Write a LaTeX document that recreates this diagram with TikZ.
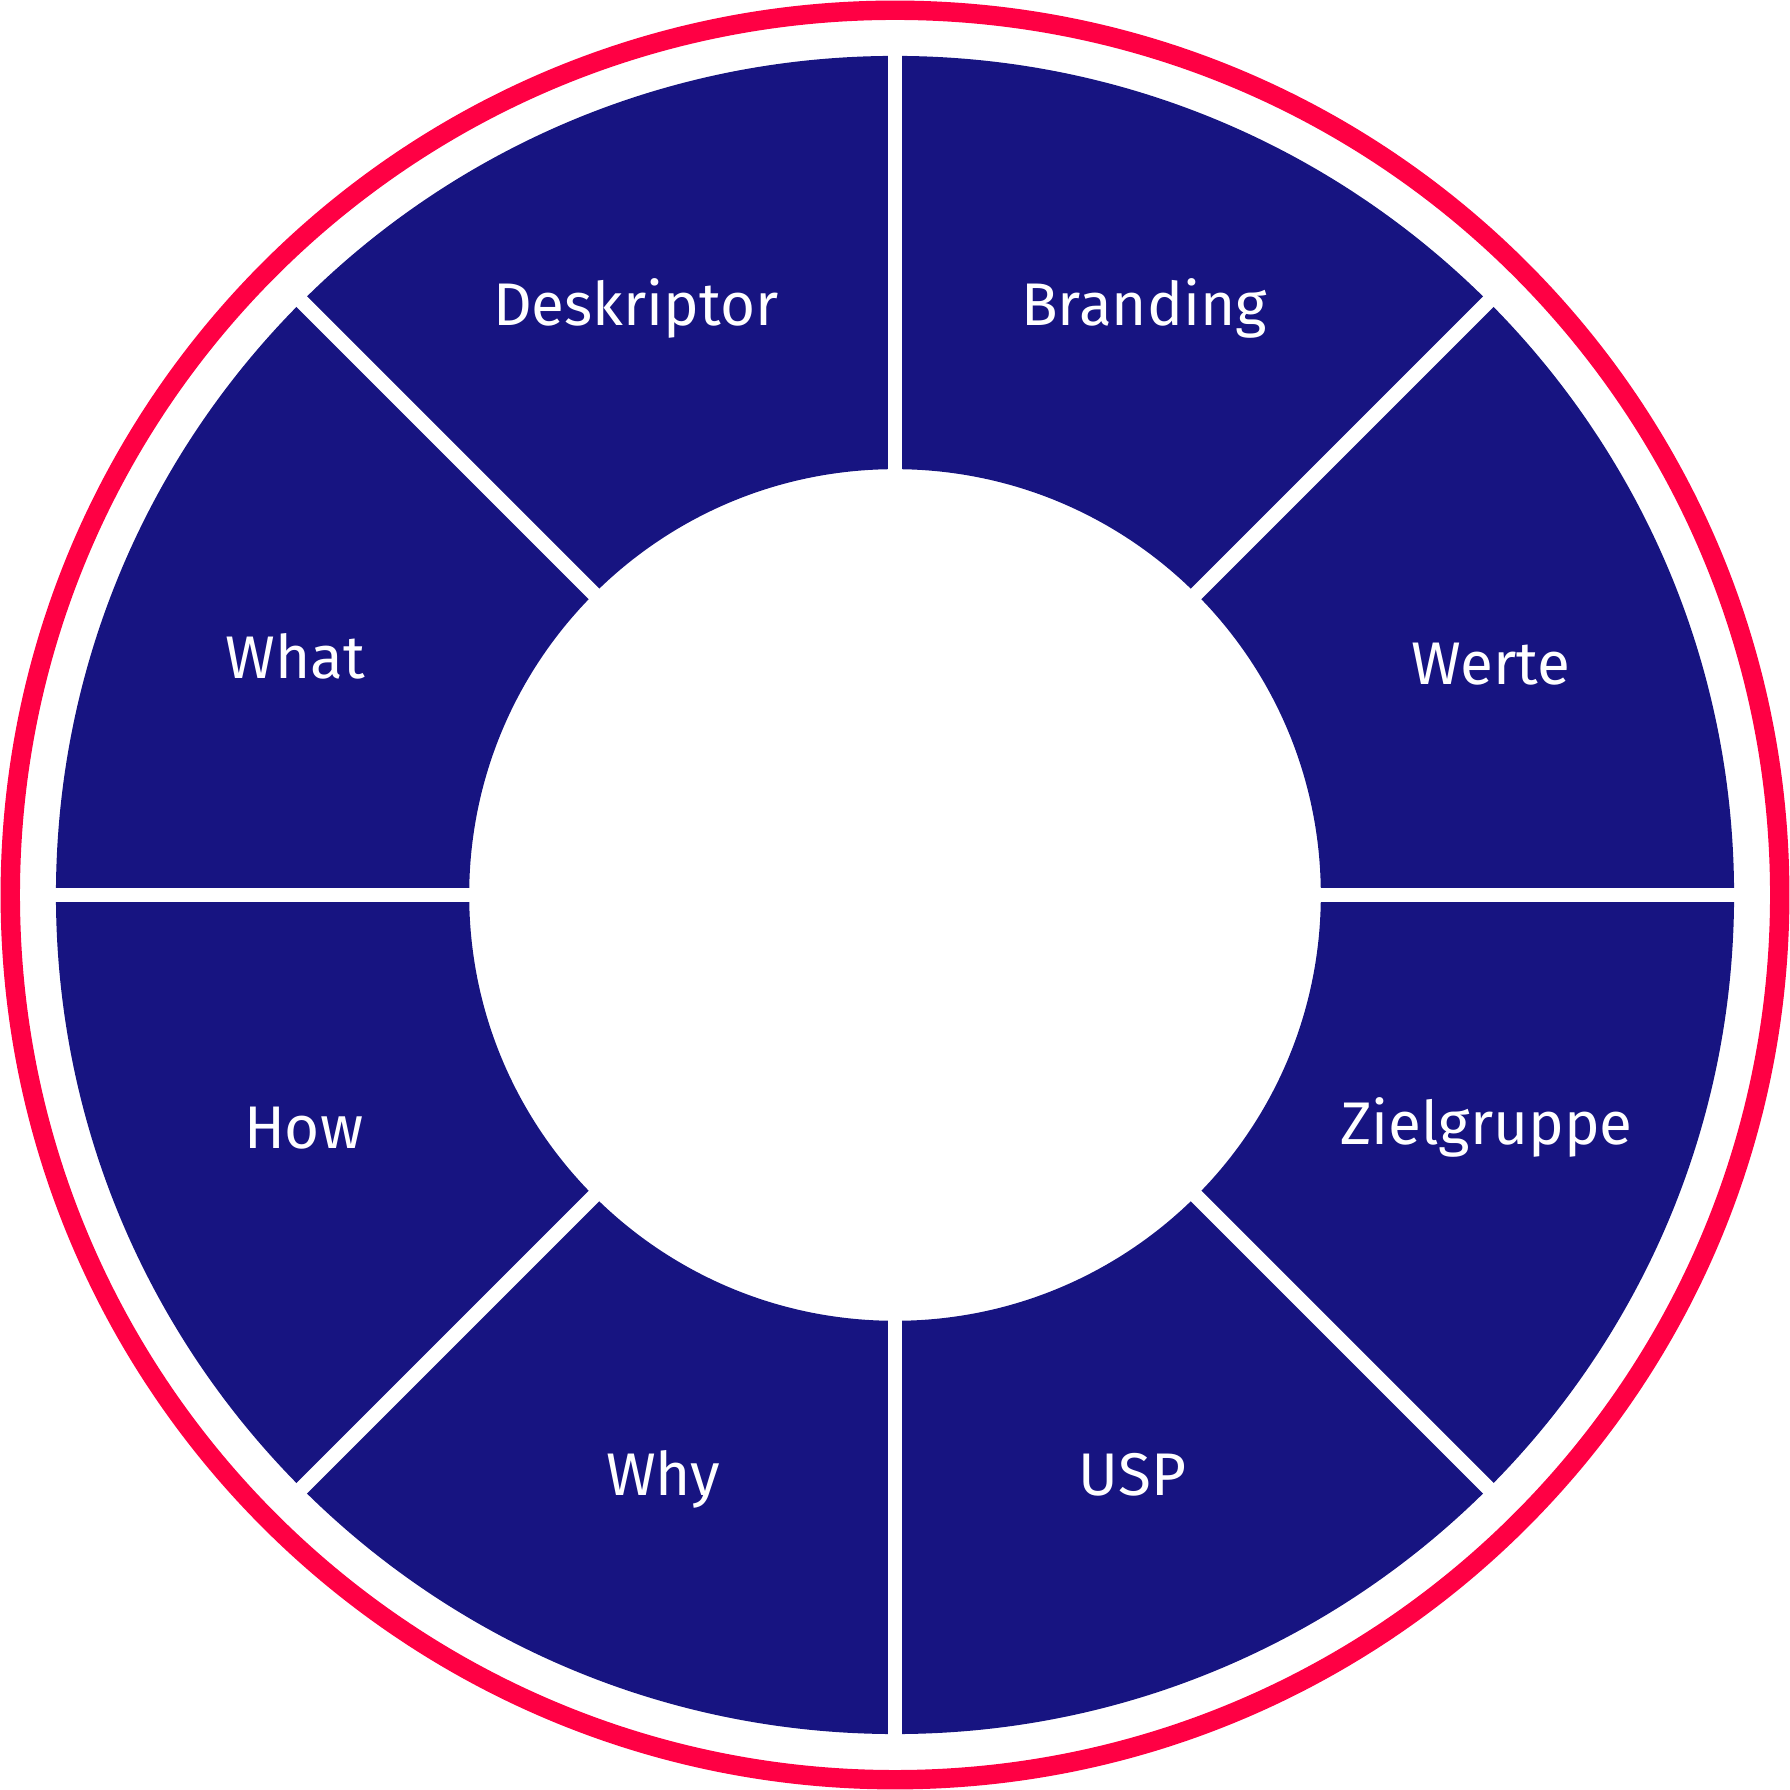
\documentclass[tikz,border=0pt]{standalone}
\usepackage{fontspec}
\setsansfont{Fira Sans}
\usetikzlibrary{calc}
\definecolor{ringred}{RGB}{255,0,68}
\definecolor{navy}{RGB}{23,20,129}
\tikzset{lbl/.style={text=white,font=\sffamily\fontsize{15}{18}\selectfont}}
\begin{document}
\begin{tikzpicture}
    \useasboundingbox (0,0) rectangle (15.68,15.68);
    \coordinate (c) at (7.84,7.84);
    \draw[ringred, line width=0.17cm] (c) circle (7.75);
    \fill[navy, even odd rule] (c) circle (7.35) (c) circle (3.73);
    \foreach \a in {0,45,90,135}
        \draw[white, line width=0.13cm] ($(c)+(\a:7.5)$) -- ($(c)+(\a+180:7.5)$);

    \node[lbl] (deskriptor) at (5.57,12.98) {Deskriptor};
    \node[lbl] (branding) at (10.02,12.98) {Branding};
    \node[lbl] (werte) at (13.06,9.86) {Werte};
    \node[lbl] (zielgruppe) at (13.02,5.80) {Zielgruppe};
    \node[lbl] (usp) at (9.92,2.76) {USP};
    \node[lbl] (why) at (5.81,2.72) {Why};
    \node[lbl] (how) at (2.66,5.80) {How};
    \node[lbl] (what) at (2.59,9.93) {What};
\end{tikzpicture}
\end{document}
